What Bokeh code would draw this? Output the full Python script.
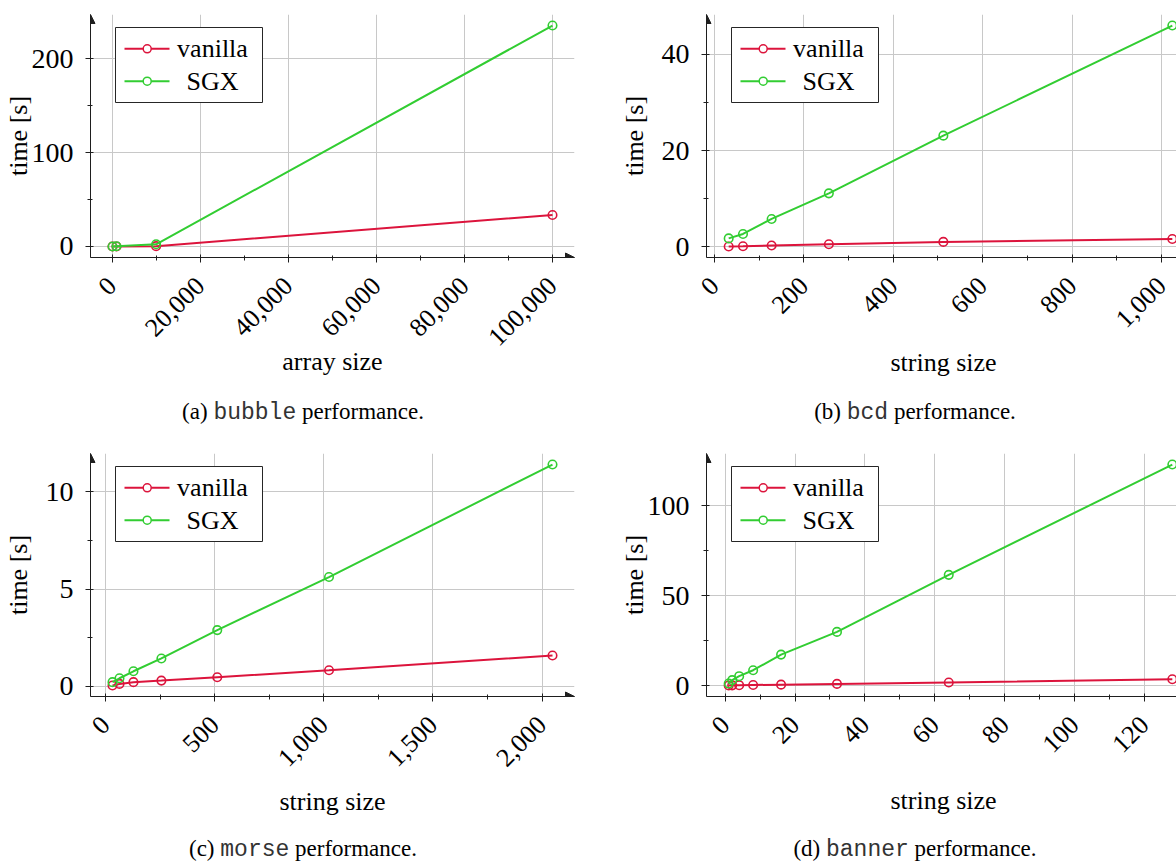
import math
from bokeh.plotting import figure
from bokeh.layouts import column, row
from bokeh.models import (Range1d, FixedTicker, NumeralTickFormatter, Label,
                          BoxAnnotation, Arrow, NormalHead, Div)
from bokeh.embed import file_html
from bokeh.resources import INLINE

# ---------------- data ----------------
bubble_size = [100, 1000, 10000, 100000]
bubble_vanilla = [0.002, 0.03, 0.35, 33.5]
bubble_sgx = [0.01, 0.25, 2.3, 235.5]
bubble_xticks = [0, 20000, 40000, 60000, 80000, 100000]
bubble_xminor = [10000, 30000, 50000, 70000, 90000]
bubble_yticks = [0, 100, 200]
bubble_yminor = [50, 150]

bcd_size = [32, 64, 128, 256, 512, 1024]
bcd_vanilla = [0.05, 0.1, 0.25, 0.5, 1.0, 1.6]
bcd_sgx = [1.73, 2.65, 5.77, 11.1, 23.1, 46.0]
bcd_xticks = [0, 200, 400, 600, 800, 1000]
bcd_xminor = [100, 300, 500, 700, 900]
bcd_yticks = [0, 20, 40]
bcd_yminor = [10, 30]

morse_size = [32, 64, 128, 256, 512, 1024, 2048]
morse_vanilla = [0.04, 0.12, 0.21, 0.29, 0.46, 0.82, 1.58]
morse_sgx = [0.21, 0.41, 0.77, 1.43, 2.89, 5.62, 11.41]
morse_xticks = [0, 500, 1000, 1500, 2000]
morse_xminor = [250, 750, 1250, 1750]
morse_yticks = [0, 5, 10]
morse_yminor = [2.5, 7.5]

banner_size = [1, 2, 4, 8, 16, 32, 64, 128]
banner_vanilla = [0.05, 0.1, 0.2, 0.3, 0.5, 0.9, 1.7, 3.5]
banner_sgx = [1.1, 3.0, 5.2, 8.5, 17.2, 29.8, 61.5, 122.8]
banner_xticks = [0, 20, 40, 60, 80, 100, 120]
banner_xminor = [10, 30, 50, 70, 90, 110, 130]
banner_yticks = [0, 50, 100]
banner_yminor = [25, 75]

series_names = ["vanilla", "SGX"]
# --------------------------------------

FONT = "Liberation Serif"
MONO = "Liberation Mono"
RED = "#DC143C"
GREEN = "#32CD32"
AXIS = "#1f1f1f"
GRID = "#c8c8c8"

XT_FS = 26      # x tick label size
YT_FS = 28      # y tick label size
AL_FS = 26      # axis label size
LG_FS = 26      # legend size
CAP_FS = 23     # caption size
TICK_OUT = 5
XSTAND = 19
YSTAND = 12


def label_w(s, fs):
    return sum(0.25 if c == "," else 0.5 for c in s) * fs


def fmt(v):
    return f"{v:,.0f}" if float(v).is_integer() else str(v)


def enlarge(vals):
    lo, hi = min(vals), max(vals)
    pad = 0.05 * (hi - lo)
    return lo - pad, hi + pad


def panel(x, van, sgx, xticks, xminor, yticks, yminor, xlabel,
          border_left, frame_w, full_w, border_right, full_x):
    frame_h = 243
    xlo, xhi = enlarge(x)
    if frame_w < full_w:
        xhi = xlo + (xhi - xlo) * frame_w / full_w
    ylo, yhi = enlarge(van + sgx)

    p = figure(frame_width=frame_w, frame_height=frame_h,
               min_border_left=border_left, min_border_right=border_right,
               min_border_top=14, min_border_bottom=130,
               x_range=Range1d(xlo, xhi), y_range=Range1d(ylo, yhi),
               output_backend="svg", toolbar_location=None)
    p.outline_line_color = None
    p.background_fill_color = "white"
    p.border_fill_color = "white"

    xt = FixedTicker(ticks=xticks, minor_ticks=xminor)
    yt = FixedTicker(ticks=yticks, minor_ticks=yminor)
    p.xaxis.ticker = xt
    p.yaxis.ticker = yt
    p.xgrid.ticker = xt
    p.ygrid.ticker = yt
    p.xaxis.formatter = NumeralTickFormatter(format="0,0")
    p.yaxis.formatter = NumeralTickFormatter(format="0,0")
    for ax in (p.xaxis, p.yaxis):
        ax.axis_line_color = AXIS
        ax.axis_line_width = 1
        ax.major_tick_line_color = AXIS
        ax.minor_tick_line_color = AXIS
        ax.major_tick_in = 3
        ax.major_tick_out = TICK_OUT
        ax.minor_tick_in = 2
        ax.minor_tick_out = 3
        ax.major_label_text_font = FONT
        ax.major_label_text_color = "black"
        ax.axis_label_text_font = FONT
        ax.axis_label_text_font_size = f"{AL_FS}px"
        ax.axis_label_text_font_style = "normal"
        ax.axis_label_text_color = "black"
    p.xaxis.major_label_text_font_size = f"{XT_FS}px"
    p.yaxis.major_label_text_font_size = f"{YT_FS}px"
    p.xaxis.major_label_orientation = math.pi / 4
    p.xaxis.major_label_standoff = XSTAND
    p.yaxis.major_label_standoff = YSTAND

    # axis labels, placed at fixed distances from the frame like the original
    h = 1.107 * XT_FS
    ext = max((label_w(fmt(t), XT_FS) + h) * math.sin(math.pi / 4)
              for t in xticks)
    p.xaxis.axis_label = xlabel
    p.xaxis.axis_label_standoff = int(round(104.7 + 5 - TICK_OUT - XSTAND
                                            - ext - 0.55 * AL_FS))
    wy = max(label_w(fmt(t), YT_FS) for t in yticks)
    p.yaxis.axis_label = "time [s]"
    p.yaxis.axis_label_standoff = int(round(69 - TICK_OUT - YSTAND - wy
                                            - 0.55 * AL_FS))

    for g in (p.xgrid, p.ygrid):
        g.grid_line_color = GRID
        g.grid_line_width = 1

    for ys, col in ((van, RED), (sgx, GREEN)):
        p.line(x, ys, line_color=col, line_width=2)
        p.scatter(x, ys, marker="circle", size=8.5, line_color=col,
                  line_width=1.6, fill_color=None)

    # axis arrows
    head = dict(size=9, fill_color=AXIS, line_color=AXIS, line_width=1)
    p.add_layout(Arrow(x_start=xlo, y_start=ylo, x_end=xlo, y_end=yhi,
                       line_color=AXIS, line_width=1, end=NormalHead(**head)))
    if full_x:
        p.add_layout(Arrow(x_start=xlo, y_start=ylo, x_end=xhi, y_end=ylo,
                           line_color=AXIS, line_width=1,
                           end=NormalHead(**head)))

    # legend (drawn by hand so the SGX entry is centred like the original)
    p.add_layout(BoxAnnotation(left=25, right=172, top=frame_h - 13,
                               bottom=frame_h - 88, left_units="screen",
                               right_units="screen", top_units="screen",
                               bottom_units="screen", fill_color="white",
                               fill_alpha=1, line_color="#262626",
                               line_width=1, line_alpha=1))
    for i, (name, col) in enumerate(zip(series_names, (RED, GREEN))):
        yy = frame_h - 34.3 - 32.4 * i
        p.add_layout(Arrow(x_start=34, y_start=yy, x_end=79, y_end=yy,
                           start_units="screen", end_units="screen",
                           end=None, line_color=col, line_width=2))
        p.add_layout(BoxAnnotation(left=52.7, right=60.7, top=yy + 4,
                                   bottom=yy - 4, left_units="screen",
                                   right_units="screen", top_units="screen",
                                   bottom_units="screen", border_radius=4,
                                   fill_color="white", fill_alpha=1,
                                   line_color=col, line_width=1.5,
                                   line_alpha=1))
        p.add_layout(Label(x=122, y=yy, x_units="screen", y_units="screen",
                           text=name, text_align="center",
                           text_baseline="middle", text_font=FONT,
                           text_font_size=f"{LG_FS}px", text_color="black"))
    return p


def caption(tag, code, width, height, center, pad):
    html = (f'<div style="width:{2 * center}px;text-align:center;'
            f'padding-top:{pad}px;font-family:\'Liberation Serif\';'
            f'font-size:{CAP_FS}px;line-height:26px;color:black;'
            f'white-space:nowrap">{tag} <span style="font-family:'
            f'\'Liberation Mono\';color:#333">{code}</span> performance.'
            f'</div>')
    return Div(text=html, width=width, height=height, margin=(0, 0, 0, 0))


pa = panel(bubble_size, bubble_vanilla, bubble_sgx, bubble_xticks,
           bubble_xminor, bubble_yticks, bubble_yminor, "array size",
           90, 484, 484, 42, True)
pb = panel(bcd_size, bcd_vanilla, bcd_sgx, bcd_xticks, bcd_xminor,
           bcd_yticks, bcd_yminor, "string size",
           86, 474, 488, 0, False)
pc = panel(morse_size, morse_vanilla, morse_sgx, morse_xticks, morse_xminor,
           morse_yticks, morse_yminor, "string size",
           90, 484, 484, 42, True)
pd = panel(banner_size, banner_vanilla, banner_sgx, banner_xticks,
           banner_xminor, banner_yticks, banner_yminor, "string size",
           86, 474, 488, 0, False)

ca = caption("(a)", "bubble", 616, 52, 303, 12)
cb = caption("(b)", "bcd", 560, 52, 299, 12)
cc = caption("(c)", "morse", 616, 36, 303, 10)
cd = caption("(d)", "banner", 560, 36, 299, 10)

layout = column(row(pa, pb), row(ca, cb), row(pc, pd), row(cc, cd))
open("out.html", "w").write(file_html(layout, INLINE))
